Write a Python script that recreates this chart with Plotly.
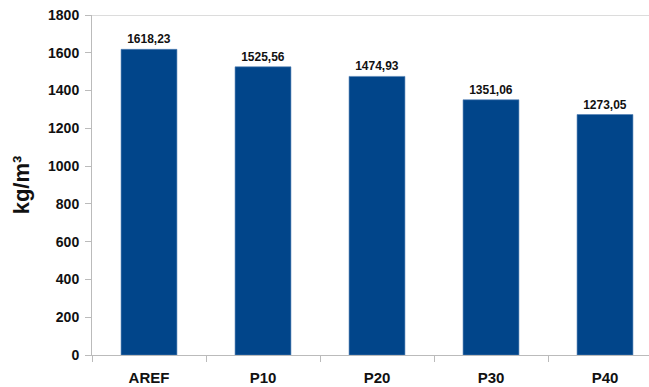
import plotly.graph_objects as go

categories = ["AREF", "P10", "P20", "P30", "P40"]
density = [1618.23, 1525.56, 1474.93, 1351.06, 1273.05]
y_ticks = [0, 200, 400, 600, 800, 1000, 1200, 1400, 1600, 1800]

labels = [f"{v:.2f}".replace(".", ",") for v in density]

fig = go.Figure(
    go.Bar(
        x=categories,
        y=density,
        text=labels,
        textposition="outside",
        cliponaxis=False,
        textfont=dict(family="Liberation Sans, Arial", size=12, color="#111111", weight="bold"),
        marker=dict(color="#01458A", line=dict(color="#4F7DB3", width=0.6)),
        width=0.49,
    )
)

fig.update_layout(
    width=649,
    height=387,
    margin=dict(l=92, r=0, t=15, b=32),
    paper_bgcolor="white",
    plot_bgcolor="white",
    showlegend=False,
    font=dict(family="Liberation Sans, Arial", color="#111111"),
)

fig.update_xaxes(
    range=[-0.5, 4.386],
    showline=True,
    linecolor="#BBBBBB",
    linewidth=1,
    ticks="outside",
    tickson="boundaries",
    ticklen=6,
    tickcolor="#BBBBBB",
    showgrid=False,
    tickfont=dict(size=15, weight="bold", color="#111111"),
    ticklabelstandoff=9,
)

fig.update_yaxes(
    range=[0, 1800],
    tickvals=y_ticks,
    showline=True,
    linecolor="#BBBBBB",
    linewidth=1,
    ticks="outside",
    ticklen=6,
    tickcolor="#BBBBBB",
    showgrid=False,
    zeroline=False,
    tickfont=dict(size=14, weight="bold", color="#111111"),
    ticklabelstandoff=3,
    title=dict(text="kg/m³", font=dict(size=22, weight="bold", color="#111111"), standoff=12),
)

# top border of the plotting area
fig.add_shape(
    type="line", xref="paper", yref="y",
    x0=0, x1=1, y0=1800, y1=1800,
    line=dict(color="#D0D0D0", width=1.5),
)

fig.write_html("out.html")
